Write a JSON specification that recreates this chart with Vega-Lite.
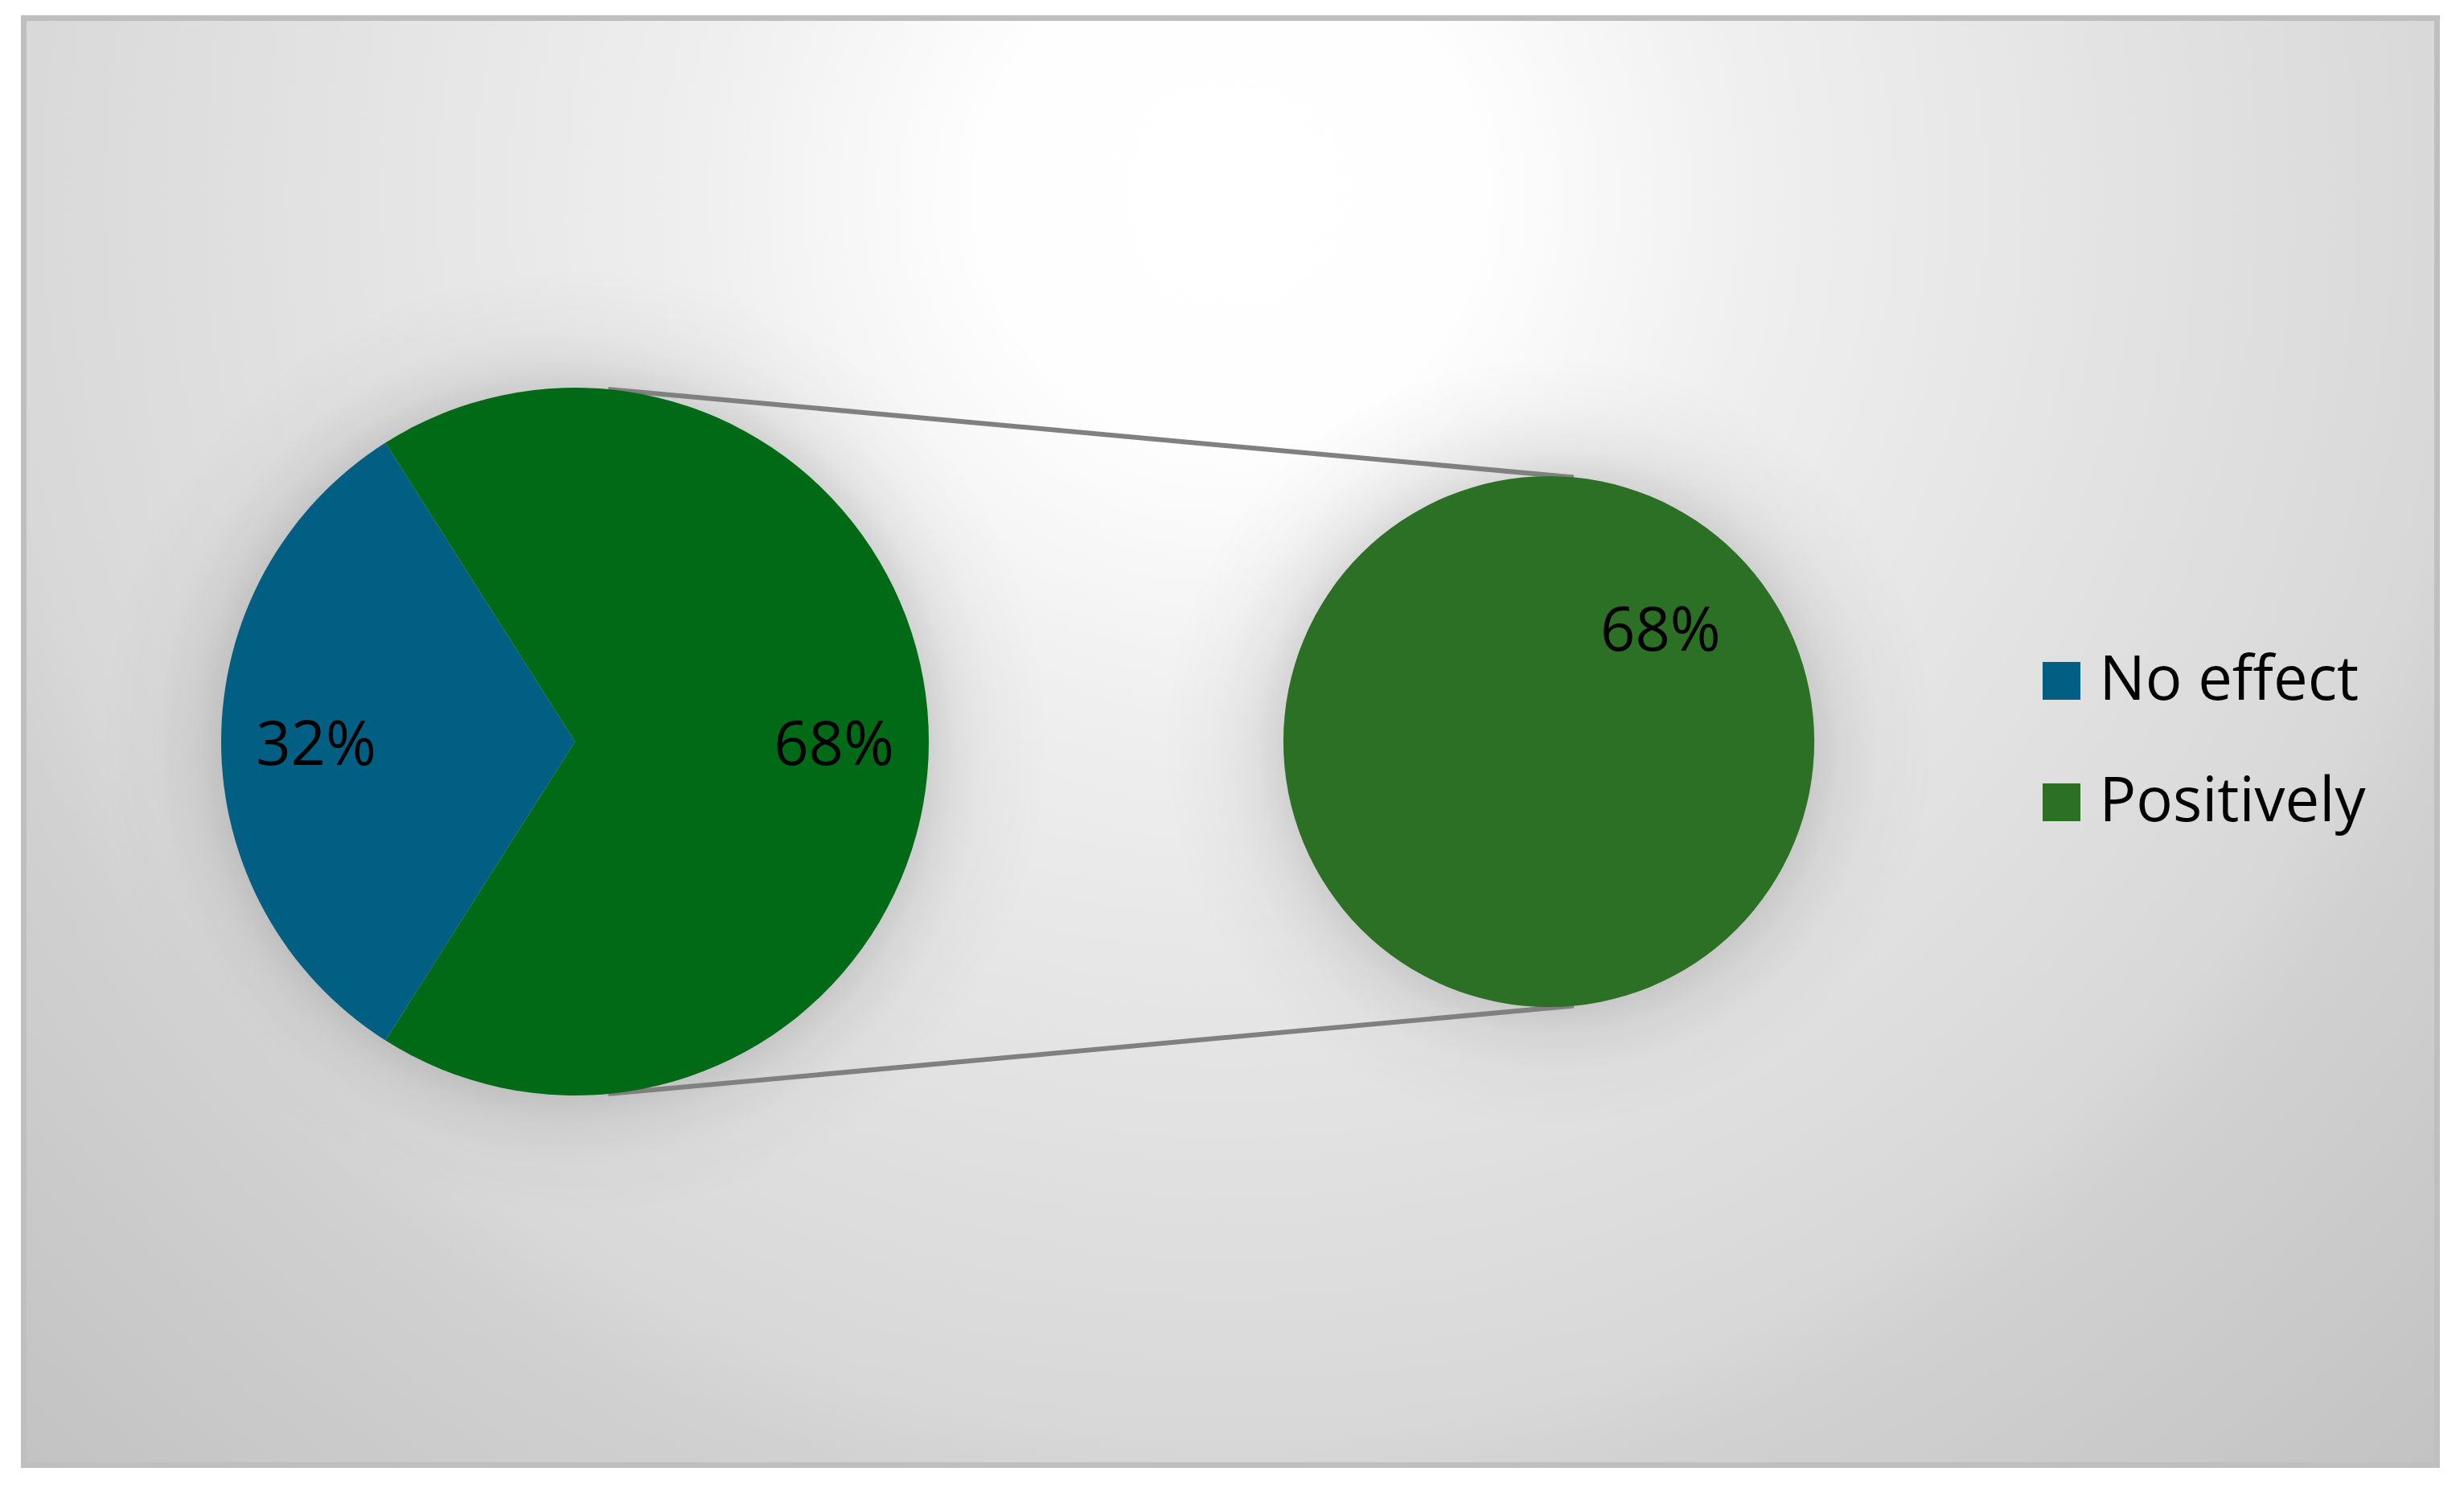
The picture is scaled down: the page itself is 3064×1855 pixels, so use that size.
{
  "$schema": "https://vega.github.io/schema/vega-lite/v6.json",
  "width": 3064,
  "height": 1855,
  "autosize": {"type": "fit", "contains": "padding"},
  "padding": {"left": 25.5, "top": 18.5, "right": 29.5, "bottom": 29.5},
  "background": "#FFFFFF",
  "config": {"view": {"stroke": null}, "font": "Open Sans"},
  "params": [
    {"name": "mainR", "value": 440},
    {"name": "detailR", "value": 330},
    {"name": "linkAngle", "value": 0.094}
  ],
  "data": {
    "values": [
      {"pie": "Main", "category": "No effect", "value": 32, "label": "32%"},
      {"pie": "Main", "category": "Positively", "value": 68, "label": "68%"},
      {"pie": "Detail", "category": "Positively", "value": 68, "label": "68%"}
    ]
  },
  "layer": [
    {
      "transform": [{"filter": "datum.category === 'No effect'"}],
      "mark": {
        "type": "arc",
        "radius": 2200,
        "theta": 0,
        "theta2": 6.2832,
        "yOffset": -680,
        "clip": true,
        "fill": {
          "gradient": "radial",
          "x1": 0.5, "y1": 0.5, "r1": 0,
          "x2": 0.5, "y2": 0.5, "r2": 0.5,
          "stops": [
            {"offset": 0, "color": "#FFFFFF"},
            {"offset": 0.14, "color": "#FEFEFE"},
            {"offset": 0.3, "color": "#EFEFEF"},
            {"offset": 0.52, "color": "#E2E2E2"},
            {"offset": 0.7, "color": "#D8D8D8"},
            {"offset": 0.75, "color": "#D1D1D1"},
            {"offset": 1, "color": "#C2C2C2"}
          ]
        }
      },
      "encoding": {}
    },
    {
      "transform": [
        {"filter": "datum.pie === 'Main'"},
        {"aggregate": [{"op": "sum", "field": "value", "as": "total"}], "groupby": ["pie"]}
      ],
      "mark": {
        "type": "arc",
        "radius": {"expr": "mainR + 150"},
        "theta": 0,
        "theta2": 6.2832,
        "fill": {
          "gradient": "radial",
          "x1": 0.5, "y1": 0.5, "r1": 0,
          "x2": 0.5, "y2": 0.5, "r2": 0.5,
          "stops": [
            {"offset": 0, "color": "rgba(0,0,0,0.12)"},
            {"offset": 0.74, "color": "rgba(0,0,0,0.12)"},
            {"offset": 0.8, "color": "rgba(0,0,0,0.06)"},
            {"offset": 0.88, "color": "rgba(0,0,0,0.02)"},
            {"offset": 1, "color": "rgba(0,0,0,0)"}
          ]
        }
      },
      "encoding": {
        "x": {"field": "pie", "type": "nominal", "scale": {"type": "point", "padding": 0, "domain": ["Main", "Detail"], "range": [685.5, 1896.5]}, "axis": null}
      }
    },
    {
      "transform": [
        {"filter": "datum.pie === 'Detail'"},
        {"aggregate": [{"op": "sum", "field": "value", "as": "total"}], "groupby": ["pie"]}
      ],
      "mark": {
        "type": "arc",
        "radius": {"expr": "detailR + 150"},
        "theta": 0,
        "theta2": 6.2832,
        "fill": {
          "gradient": "radial",
          "x1": 0.5, "y1": 0.5, "r1": 0,
          "x2": 0.5, "y2": 0.5, "r2": 0.5,
          "stops": [
            {"offset": 0, "color": "rgba(0,0,0,0.12)"},
            {"offset": 0.68, "color": "rgba(0,0,0,0.12)"},
            {"offset": 0.76, "color": "rgba(0,0,0,0.06)"},
            {"offset": 0.86, "color": "rgba(0,0,0,0.02)"},
            {"offset": 1, "color": "rgba(0,0,0,0)"}
          ]
        }
      },
      "encoding": {
        "x": {"field": "pie", "type": "nominal", "axis": null}
      }
    },
    {
      "transform": [{"filter": "datum.category === 'No effect'"}],
      "mark": {"type": "rule", "color": "#808080", "strokeWidth": 6},
      "encoding": {
        "x": {"value": {"expr": "scale('x', 'Main') + mainR * sin(linkAngle)"}},
        "x2": {"value": {"expr": "scale('x', 'Detail') + detailR * sin(linkAngle)"}},
        "y": {"value": {"expr": "height / 2 - mainR * cos(linkAngle)"}},
        "y2": {"value": {"expr": "height / 2 - detailR * cos(linkAngle)"}}
      }
    },
    {
      "transform": [{"filter": "datum.category === 'No effect'"}],
      "mark": {"type": "rule", "color": "#808080", "strokeWidth": 6},
      "encoding": {
        "x": {"value": {"expr": "scale('x', 'Main') + mainR * sin(linkAngle)"}},
        "x2": {"value": {"expr": "scale('x', 'Detail') + detailR * sin(linkAngle)"}},
        "y": {"value": {"expr": "height / 2 + mainR * cos(linkAngle)"}},
        "y2": {"value": {"expr": "height / 2 + detailR * cos(linkAngle)"}}
      }
    },
    {
      "transform": [{"filter": "datum.pie === 'Main'"}],
      "mark": {"type": "arc", "radius": {"expr": "mainR"}},
      "encoding": {
        "x": {"field": "pie", "type": "nominal", "axis": null},
        "theta": {"field": "value", "type": "quantitative", "stack": true, "scale": {"range": [3.707, 9.990]}},
        "color": {
          "condition": {"test": "datum.category === 'Positively'", "value": "#016A17"},
          "field": "category",
          "type": "nominal",
          "scale": {"domain": ["No effect", "Positively"], "range": ["#005F83", "#2B7024"]},
          "legend": {
            "orient": "none",
            "direction": "vertical",
            "legendX": 2496,
            "legendY": 786,
            "title": null,
            "padding": 0,
            "symbolType": "square",
            "symbolSize": 2209,
            "symbolStrokeWidth": 0,
            "symbolOpacity": 1,
            "labelFont": "Open Sans",
            "labelFontSize": 76,
            "labelColor": "#000000",
            "labelOffset": 9,
            "labelLimit": 1000,
            "rowPadding": 75
          }
        }
      }
    },
    {
      "transform": [{"filter": "datum.pie === 'Main'"}],
      "mark": {"type": "text", "radius": 322, "dy": 6, "font": "Open Sans", "fontSize": 76, "color": "#000000", "align": "center", "baseline": "middle"},
      "encoding": {
        "x": {"field": "pie", "type": "nominal", "axis": null},
        "theta": {"field": "value", "type": "quantitative", "stack": true, "scale": {"range": [3.707, 9.990]}},
        "detail": {"field": "category", "type": "nominal"},
        "text": {"field": "label", "type": "nominal"}
      }
    },
    {
      "transform": [{"filter": "datum.pie === 'Detail'"}],
      "mark": {"type": "arc", "radius": {"expr": "detailR"}, "theta": 0, "theta2": 6.2832},
      "encoding": {
        "x": {"field": "pie", "type": "nominal", "axis": null},
        "color": {"field": "category", "type": "nominal"}
      }
    },
    {
      "transform": [{"filter": "datum.pie === 'Detail'"}],
      "mark": {"type": "text", "radius": 197, "theta": 0.782, "dy": 4, "font": "Open Sans", "fontSize": 76, "color": "#000000", "align": "center", "baseline": "middle"},
      "encoding": {
        "x": {"field": "pie", "type": "nominal", "axis": null},
        "text": {"field": "label", "type": "nominal"}
      }
    },
    {
      "transform": [{"filter": "datum.category === 'No effect'"}],
      "mark": {"type": "rect", "fill": null, "stroke": "#BFBFBF", "strokeWidth": 7},
      "encoding": {}
    }
  ]
}
